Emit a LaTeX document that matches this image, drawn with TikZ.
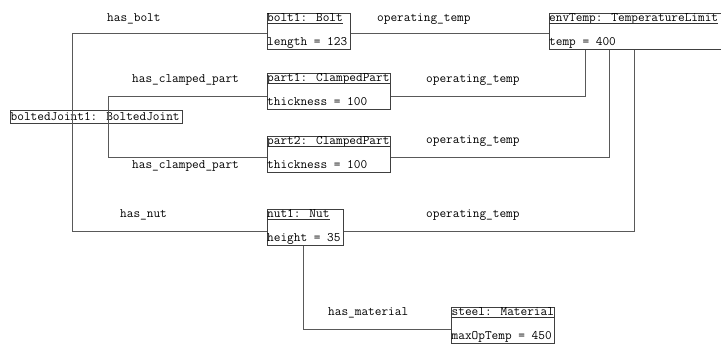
\documentclass[tikz,border=0pt]{standalone}
\usepackage{fontspec}
\begin{document}
\begin{tikzpicture}[x=1bp,y=-1bp,
  conn/.style={draw=black!65, line width=1bp},
  uline/.style={draw=black!80, line width=0.8bp},
  objbox/.style={draw=black!75, line width=1bp, rectangle, inner sep=0pt, anchor=north west},
  txt/.style={inner sep=0pt, anchor=base west, font=\ttfamily\fontsize{12.95bp}{14bp}\selectfont, text=black},
]
\useasboundingbox (0,0) rectangle (721,343);
\clip (0,0) rectangle (721,343);

% boxes
\node[objbox, minimum width=172bp, minimum height=12.5bp] (bj) at (10,110) {};
\node[objbox, minimum width=83bp, minimum height=36bp] (bolt1) at (266.5,12.5) {};
\node[objbox, minimum width=123.5bp, minimum height=36bp] (part1) at (266.5,72.5) {};
\node[objbox, minimum width=123.5bp, minimum height=36bp] (part2) at (266.5,136) {};
\node[objbox, minimum width=76.5bp, minimum height=36bp] (nut1) at (266.5,208.5) {};
\node[objbox, minimum width=175.5bp, minimum height=36bp] (envTemp) at (548.5,13) {};
\node[objbox, minimum width=103bp, minimum height=36bp] (steel) at (451,306.5) {};

% box texts
\node[txt] (bjh) at (10.5,120.3) {boltedJoint1: BoltedJoint};

\node[txt] (bolt1h) at (267,21) {bolt1: Bolt};
\node[txt] (bolt1a) at (267,45.2) {length = 123};
\node[txt] (part1h) at (267,81) {part1: ClampedPart};
\node[txt] (part1a) at (267,105.2) {thickness = 100};
\node[txt] (part2h) at (267,144.5) {part2: ClampedPart};
\node[txt] (part2a) at (267,168.7) {thickness = 100};
\node[txt] (nut1h) at (267,217) {nut1: Nut};
\node[txt] (nut1a) at (267,241.2) {height = 35};
\node[txt] (envTemph) at (549,21.5) {envTemp: TemperatureLimit};
\node[txt] (envTempa) at (549,45.7) {temp = 400};
\node[txt] (steelh) at (451.5,315) {steel: Material};
\node[txt] (steela) at (451.5,339.2) {maxOpTemp = 450};

\foreach \h in {bolt1h,part1h,part2h,nut1h,envTemph,steelh}
  \draw[uline] ([yshift=-2.2bp]\h.base west) -- ([yshift=-2.2bp]\h.base east);

% connectors
\draw[conn] ([yshift=-2.5bp]bolt1.west) -| ([xshift=-24bp]bj.center);
\draw[conn] ([yshift=-4bp]nut1.west) -| ([xshift=-24bp]bj.center);
\draw[conn] ([yshift=-5bp]part1.west) -| ([xshift=12bp]bj.center);
\draw[conn] ([yshift=-3.3bp]part2.west) -| ([xshift=12bp]bj.center);
\draw[conn] ([yshift=-2.5bp]bolt1.east) -- ([yshift=-2bp]envTemp.west);
\draw[conn] ([yshift=-5bp]part1.east) -| ([xshift=37bp]envTemp.south west);
\draw[conn] ([yshift=-3.3bp]part2.east) -| ([xshift=60.8bp]envTemp.south west);
\draw[conn] ([yshift=-4bp]nut1.east) -| ([xshift=85.8bp]envTemp.south west);
\draw[conn] ([xshift=-1.5bp]nut1.south) |- ([yshift=-4.2bp]steel.west);

% labels
\node[txt] (lbolt) at (107,21.5) {has\_bolt};
\node[txt] (lop1) at (377,21.5) {operating\_temp};
\node[txt] (lcp1) at (132,82.5) {has\_clamped\_part};
\node[txt] (lop2) at (426,82.5) {operating\_temp};
\node[txt] (lop3) at (426,143.5) {operating\_temp};
\node[txt] (lcp2) at (132,168.5) {has\_clamped\_part};
\node[txt] (lnut) at (120,217.5) {has\_nut};
\node[txt] (lop4) at (426,217.5) {operating\_temp};
\node[txt] (lmat) at (328,315.5) {has\_material};
\end{tikzpicture}
\end{document}
